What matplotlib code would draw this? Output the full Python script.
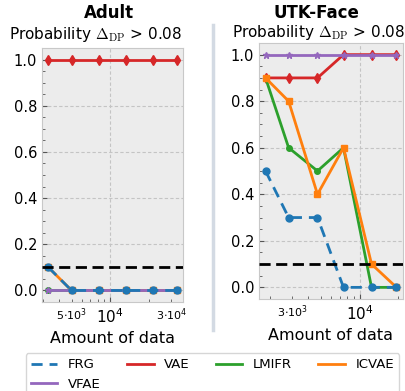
import numpy as np
import matplotlib
matplotlib.use("Agg")
import matplotlib.pyplot as plt
from matplotlib.lines import Line2D
from matplotlib.ticker import FuncFormatter, AutoMinorLocator, LogLocator, FixedLocator

# data
ADULT_N = [3300, 5000, 8200, 13300, 21500, 33000]
UTK_N = [1850, 2800, 4700, 7500, 12400, 19400]

ADULT = {
    "FRG": [0.1, 0.0, 0.0, 0.0, 0.0, 0.0],
    "VAE": [1.0, 1.0, 1.0, 1.0, 1.0, 1.0],
    "LMIFR": [0.0, 0.0, 0.0, 0.0, 0.0, 0.0],
    "ICVAE": [0.1, 0.0, 0.0, 0.0, 0.0, 0.0],
    "VFAE": [0.0, 0.0, 0.0, 0.0, 0.0, 0.0],
}
UTK = {
    "FRG": [0.5, 0.3, 0.3, 0.0, 0.0, 0.0],
    "VAE": [0.9, 0.9, 0.9, 1.0, 1.0, 1.0],
    "LMIFR": [0.9, 0.6, 0.5, 0.6, 0.0, 0.0],
    "ICVAE": [0.9, 0.8, 0.4, 0.6, 0.1, 0.0],
    "VFAE": [1.0, 1.0, 1.0, 1.0, 1.0, 1.0],
}
THRESHOLD = 0.1

STYLE = {
    "FRG": dict(color="#1f77b4", ls=(0, (4, 2.5)), marker="o", ms=5, zorder=6),
    "VAE": dict(color="#d62728", ls="-", marker="d", ms=5, zorder=3),
    "LMIFR": dict(color="#2ca02c", ls="-", marker="o", ms=4, zorder=3),
    "ICVAE": dict(color="#ff7f0e", ls="-", marker="s", ms=5, zorder=3),
    "VFAE": dict(color="#9467bd", ls="-", marker="*", ms=5, zorder=4),
}
DRAW_ORDER = ["VAE", "LMIFR", "ICVAE", "VFAE", "FRG"]
# column-major fill so rows read FRG VAE LMIFR ICVAE / VFAE
LEGEND_ORDER = ["FRG", "VFAE", "VAE", "LMIFR", "ICVAE"]


def minor_fmt(labels):
    def f(v, pos):
        for k, s in labels.items():
            if abs(v - k) / k < 1e-6:
                return s
        return ""
    return FuncFormatter(f)


def panel(ax, xs, data, minor_labels):
    for name in DRAW_ORDER:
        st = STYLE[name]
        ax.plot(xs, data[name], color=st["color"], ls=st["ls"], lw=2,
                marker=st["marker"], ms=st["ms"], zorder=st["zorder"])
    ax.axhline(THRESHOLD, color="black", ls=(0, (4, 2)), lw=2, zorder=7)
    ax.set_xscale("log")
    ax.set_facecolor("#ececec")
    ax.set_ylim(-0.05, 1.05)
    ax.set_yticks([0.0, 0.2, 0.4, 0.6, 0.8, 1.0])
    ax.yaxis.set_minor_locator(AutoMinorLocator(4))
    ax.xaxis.set_major_locator(FixedLocator([1e4]))
    ax.xaxis.set_major_formatter(FuncFormatter(lambda v, p: r"$10^{4}$"))
    ax.xaxis.set_minor_locator(LogLocator(base=10, subs=np.arange(2, 10)))
    ax.xaxis.set_minor_formatter(minor_fmt(minor_labels))
    ax.tick_params(which="both", direction="in", color="#555555")
    ax.tick_params(axis="y", which="major", labelsize=10.5)
    ax.tick_params(axis="x", which="major", labelsize=11)
    ax.tick_params(axis="x", which="minor", labelsize=8)
    ax.grid(True, which="major", color="#c4c4c4", ls=(0, (3, 2)), lw=0.8)
    for sp in ax.spines.values():
        sp.set_color("#c8c8c8")
    ax.set_xlabel("Amount of data", fontsize=11.5)


fig = plt.figure(figsize=(4.06, 3.91), dpi=100)
W, H = 406.0, 391.0
ax1 = fig.add_axes([42 / W, 1 - 302 / H, 141 / W, 254 / H])
ax2 = fig.add_axes([259 / W, 1 - 299 / H, 144 / W, 256 / H])

panel(ax1, ADULT_N, ADULT, {5000: r"$5{\cdot}10^{3}$", 30000: r"$3{\cdot}10^{4}$"})
panel(ax2, UTK_N, UTK, {3000: r"$3{\cdot}10^{3}$"})

sub = r"Probability $\Delta_{\mathrm{DP}}$ > 0.08"
fig.text(109 / W, 1 - 13 / H, "Adult", ha="center", va="center", fontsize=12, fontweight="bold")
fig.text(95.5 / W, 1 - 35 / H, sub, ha="center", va="center", fontsize=11, math_fontfamily="cm")
fig.text(316 / W, 1 - 13 / H, "UTK-Face", ha="center", va="center", fontsize=12, fontweight="bold")
fig.text(319 / W, 1 - 32 / H, sub, ha="center", va="center", fontsize=11, math_fontfamily="cm")

fig.add_artist(Line2D([212.5 / W, 212.5 / W], [1 - 25 / H, 1 - 330 / H], color="#d3dae3", lw=2.5))

handles = [Line2D([], [], color=STYLE[n]["color"], ls=STYLE[n]["ls"], lw=2) for n in LEGEND_ORDER]
leg = fig.legend(handles, LEGEND_ORDER, loc="upper center", bbox_to_anchor=(212.5 / W, 1 - 353 / H),
                 ncol=4, fontsize=9.5, frameon=True, fancybox=True, borderaxespad=0)
leg.get_frame().set_edgecolor("#cccccc")

fig.savefig("out.png", dpi=100)
